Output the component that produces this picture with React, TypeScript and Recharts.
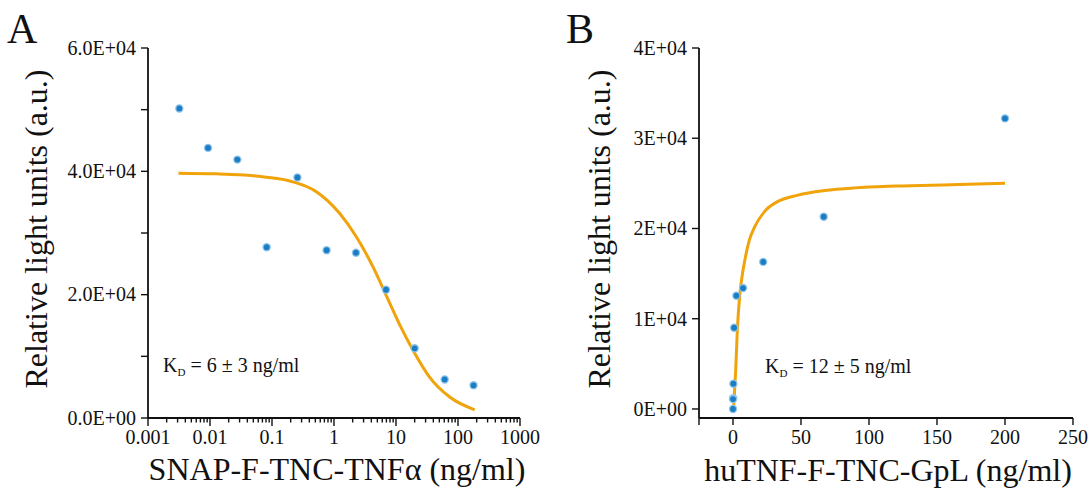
import React from 'react';
import { ComposedChart, Scatter, XAxis, YAxis } from 'recharts';

const FONT = '"Liberation Serif", "Times New Roman", Times, serif';
const INK = '#111';
const DOT = '#1b7dc4';
const CURVE = '#F0A30A';

// ---------- Panel A: SNAP-F-TNC-TNFα (log x) ----------
const concA = [0.0032, 0.0093, 0.0276, 0.082, 0.257, 0.76, 2.26, 6.9, 20, 61, 178];
const rluA = [50200, 43800, 41900, 27700, 39000, 27200, 26800, 20800, 11300, 6250, 5300];
const fitConcA = [0.0031, 0.0126, 0.03, 0.081, 0.2, 0.52, 1.23, 2.29, 4.26, 7.0, 11.5, 18.8, 35, 73.5, 186];
const fitRluA = [39700, 39600, 39450, 39050, 38400, 36700, 33200, 29400, 24500, 19800, 15100, 11000, 6600, 3400, 1330];
const majorTicksA = [0.001, 0.01, 0.1, 1, 10, 100, 1000];
const majorTickLabelsA = ['0.001', '0.01', '0.1', '1', '10', '100', '1000'];
const minorMultipliers = [2, 3, 4, 5, 6, 7, 8, 9];
const yTicksA = [0, 10000, 20000, 30000, 40000, 50000, 60000];
const yTickLabelsA = ['0.0E+00', '', '2.0E+04', '', '4.0E+04', '', '6.0E+04'];

// ---------- Panel B: huTNF-F-TNC-GpL (linear x) ----------
const concB = [200, 66.7, 22.2, 7.4, 2.47, 0.82, 0.27, 0.09, 0.03, 0.01];
const rluB = [32200, 21300, 16300, 13400, 12550, 9000, 2800, 1200, 1100, 0];
const fitConcB = [0.4, 1.2, 2.0, 3.2, 4.9, 7.4, 9.5, 12, 16, 23.3, 33, 47.8, 67.4, 89.5, 120, 160, 200];
const fitRluB = [0, 2200, 4350, 8800, 12500, 15400, 17100, 18700, 20200, 21900, 23000, 23700, 24200, 24500, 24700, 24850, 25000];
const xTicksB = [-25, 0, 50, 100, 150, 200, 250];
const xTickLabelsB = ['', '0', '50', '100', '150', '200', '250'];
const yTicksB = [0, 10000, 20000, 30000, 40000];
const yTickLabelsB = ['0E+00', '1E+04', '2E+04', '3E+04', '4E+04'];

const titleA = 'SNAP-F-TNC-TNFα (ng/ml)';
const titleB = 'huTNF-F-TNC-GpL (ng/ml)';
const yTitle = 'Relative light units (a.u.)';

const pointsA = concA.map((x, i) => ({ x, y: rluA[i] }));
const curveA = fitConcA.map((x, i) => ({ x, y: fitRluA[i] }));
const pointsB = concB.map((x, i) => ({ x, y: rluB[i] }));
const curveB = fitConcB.map((x, i) => ({ x, y: fitRluB[i] }));

const minorTicksA = majorTicksA
  .slice(0, -1)
  .flatMap((d) => minorMultipliers.map((m) => Number((d * m).toPrecision(3))));
const xTicksA = [...majorTicksA, ...minorTicksA];

const serif = (size: number) => ({ fontFamily: FONT, fontSize: size, fill: INK });
const axisLine = { stroke: INK, strokeWidth: 1.8 };
const tickLine = { stroke: INK, strokeWidth: 1.4 };

const Dot = (props: any) => {
  const { cx, cy } = props;
  if (cx == null || cy == null) return <g />;
  return (
    <g>
      <circle cx={cx} cy={cy} r={4.2} fill="#8fc3ea" />
      <circle cx={cx} cy={cy} r={2.9} fill={DOT} />
    </g>
  );
};

const NoShape = () => <g />;

const LogTick = (props: any) => {
  const { x, y, payload } = props;
  const idx = majorTicksA.indexOf(payload.value);
  const major = idx >= 0;
  return (
    <g>
      <line x1={x} x2={x} y1={y} y2={y + (major ? 8 : 4.5)} stroke={INK} strokeWidth={1.4} />
      {major && (
        <text x={x} y={y + 12} dy="0.71em" textAnchor="middle" style={serif(20)}>
          {majorTickLabelsA[idx]}
        </text>
      )}
    </g>
  );
};

const makeYTick = (ticks: number[], labels: string[]) => (props: any) => {
  const { x, y, payload } = props;
  const label = labels[ticks.indexOf(payload.value)] ?? '';
  return (
    <text x={x} y={y} dy="0.34em" textAnchor="end" style={serif(20)}>
      {label}
    </text>
  );
};

const makeXTick = (ticks: number[], labels: string[]) => (props: any) => {
  const { x, y, payload } = props;
  const label = labels[ticks.indexOf(payload.value)] ?? '';
  return (
    <text x={x} y={y} dy="0.71em" textAnchor="middle" style={serif(20)}>
      {label}
    </text>
  );
};

const YTickA = makeYTick(yTicksA, yTickLabelsA);
const YTickB = makeYTick(yTicksB, yTickLabelsB);
const XTickB = makeXTick(xTicksB, xTickLabelsB);

const ChartA = () => (
  <ComposedChart width={560} height={488} margin={{ top: 48, right: 40, bottom: 0, left: 0 }}>
    <XAxis
      type="number"
      dataKey="x"
      scale="log"
      domain={[0.001, 1000]}
      allowDataOverflow
      ticks={xTicksA}
      interval={0}
      tick={(p: any) => <LogTick {...p} />}
      tickLine={false}
      tickSize={0}
      tickMargin={0}
      axisLine={axisLine}
      height={70}
    />
    <YAxis
      type="number"
      dataKey="y"
      domain={[0, 60000]}
      ticks={yTicksA}
      interval={0}
      tick={(p: any) => <YTickA {...p} />}
      tickLine={tickLine}
      tickSize={7}
      tickMargin={5}
      axisLine={axisLine}
      width={148}
    />
    <Scatter
      data={curveA}
      line={{ stroke: CURVE, strokeWidth: 3 }}
      lineJointType="monotoneX"
      shape={NoShape}
      isAnimationActive={false}
    />
    <Scatter data={pointsA} shape={Dot} isAnimationActive={false} />
  </ComposedChart>
);

const ChartB = () => (
  <ComposedChart width={528} height={488} margin={{ top: 48, right: 15, bottom: 0, left: 0 }}>
    <XAxis
      type="number"
      dataKey="x"
      domain={[-25, 250]}
      allowDataOverflow
      ticks={xTicksB}
      interval={0}
      tick={(p: any) => <XTickB {...p} />}
      tickLine={tickLine}
      tickSize={7}
      tickMargin={5}
      axisLine={axisLine}
      height={70}
    />
    <YAxis
      type="number"
      dataKey="y"
      domain={[-1000, 40000]}
      allowDataOverflow
      ticks={yTicksB}
      interval={0}
      tick={(p: any) => <YTickB {...p} />}
      tickLine={tickLine}
      tickSize={7}
      tickMargin={5}
      axisLine={axisLine}
      width={139}
    />
    <Scatter
      data={curveB}
      line={{ stroke: CURVE, strokeWidth: 3 }}
      lineJointType="monotoneX"
      shape={NoShape}
      isAnimationActive={false}
    />
    <Scatter data={pointsB} shape={Dot} isAnimationActive={false} />
  </ComposedChart>
);

export default function App() {
  return (
    <div
      style={{
        position: 'absolute',
        left: 0,
        top: 0,
        width: 1088,
        height: 488,
        background: '#fff',
        overflow: 'hidden',
        fontFamily: FONT,
      }}
    >
      <div style={{ position: 'absolute', left: 0, top: 0 }}>
        <ChartA />
      </div>
      <div style={{ position: 'absolute', left: 560, top: 0 }}>
        <ChartB />
      </div>
      <svg width={1088} height={488} style={{ position: 'absolute', left: 0, top: 0, pointerEvents: 'none' }}>
        <text x={7} y={43} style={serif(42)}>A</text>
        <text x={566} y={43} style={serif(42)}>B</text>
        <text x={163} y={372} style={serif(20)}>
          K<tspan style={{ fontSize: 11 }} dy={4}>D</tspan>
          <tspan dy={-4}> = 6 ± 3 ng/ml</tspan>
        </text>
        <text x={765} y={373} style={serif(20)}>
          K<tspan style={{ fontSize: 11 }} dy={4}>D</tspan>
          <tspan dy={-4}> = 12 ± 5 ng/ml</tspan>
        </text>
        <text x={337} y={480} textAnchor="middle" style={serif(32)}>{titleA}</text>
        <text x={888} y={481} textAnchor="middle" style={serif(32)}>{titleB}</text>
        <text transform="translate(47,229) rotate(-90)" textAnchor="middle" style={serif(32)}>{yTitle}</text>
        <text transform="translate(610,229) rotate(-90)" textAnchor="middle" style={serif(32)}>{yTitle}</text>
      </svg>
    </div>
  );
}
